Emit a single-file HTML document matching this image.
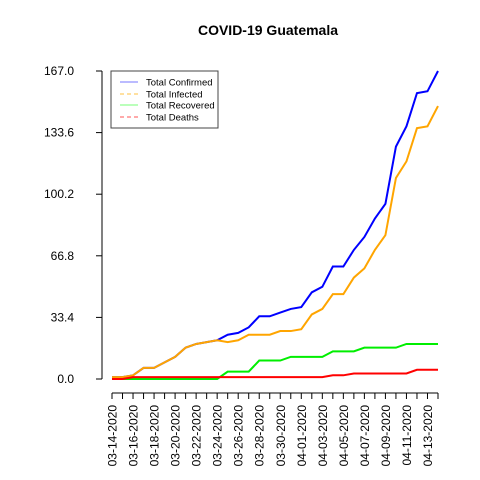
<!DOCTYPE html>
<html><head><meta charset="utf-8"><style>body{margin:0;background:#fff}svg{display:block;font-family:"Liberation Sans",sans-serif}</style></head>
<body>
<svg id="c" width="480" height="480" xmlns="http://www.w3.org/2000/svg">
<text x="268" y="35" text-anchor="middle" font-weight="bold" font-size="14">COVID-19 Guatemala</text>
<g id="plot"></g>
<g>
<rect x="111" y="71" width="107" height="57" fill="#fff" stroke="#444" stroke-width="1"/>
<line x1="120" y1="82" x2="138" y2="82" stroke="#7777ff" stroke-width="1"/>
<line x1="120" y1="94" x2="138" y2="94" stroke="#ffc040" stroke-dasharray="4,3"/>
<line x1="120" y1="105" x2="138" y2="105" stroke="#77ff77"/>
<line x1="120" y1="117" x2="138" y2="117" stroke="#ff5555" stroke-dasharray="4,3"/>
<text x="146" y="85.5" font-size="9.5">Total Confirmed</text>
<text x="146" y="97.5" font-size="9.5">Total Infected</text>
<text x="146" y="108.5" font-size="9.5">Total Recovered</text>
<text x="146" y="120.5" font-size="9.5">Total Deaths</text>
</g>
</svg>
<script>
const dates=["03-14-2020","03-15-2020","03-16-2020","03-17-2020","03-18-2020","03-19-2020","03-20-2020","03-21-2020","03-22-2020","03-23-2020","03-24-2020","03-25-2020","03-26-2020","03-27-2020","03-28-2020","03-29-2020","03-30-2020","03-31-2020","04-01-2020","04-02-2020","04-03-2020","04-04-2020","04-05-2020","04-06-2020","04-07-2020","04-08-2020","04-09-2020","04-10-2020","04-11-2020","04-12-2020","04-13-2020","04-14-2020"];
const confirmed=[1,1,2,6,6,9,12,17,19,20,21,24,25,28,34,34,36,38,39,47,50,61,61,70,77,87,95,126,137,155,156,167];
const infected=[1,1,2,6,6,9,12,17,19,20,21,20,21,24,24,24,26,26,27,35,38,46,46,55,60,70,78,109,118,136,137,148];
const recovered=[0,0,0,0,0,0,0,0,0,0,0,4,4,4,10,10,10,12,12,12,12,15,15,15,17,17,17,17,19,19,19,19];
const deaths=[0,0,1,1,1,1,1,1,1,1,1,1,1,1,1,1,1,1,1,1,1,2,2,3,3,3,3,3,3,5,5,5];
const yTicks=[0,33.4,66.8,100.2,133.6,167.0];
const NS="http://www.w3.org/2000/svg";
const x=i=>112+i*(326/(dates.length-1));
const y=v=>379-v*(308/167);
const g=document.getElementById('plot');
function mk(t,a){const e=document.createElementNS(NS,t);for(const k in a)e.setAttribute(k,a[k]);g.appendChild(e);return e;}
let ya=mk('line',{x1:102,y1:y(0),x2:102,y2:y(167),stroke:'#000'});


yTicks.forEach(v=>{mk('line',{x1:96,y1:y(v),x2:102,y2:y(v),stroke:'#000'});
const t=mk('text',{x:74,y:y(v)+4,'text-anchor':'end','font-size':12});t.textContent=v.toFixed(1);

});
let xa=mk('line',{x1:x(0),y1:393,x2:x(dates.length-1),y2:393,stroke:'#000'});


dates.forEach((d,i)=>{mk('line',{x1:x(i),y1:393,x2:x(i),y2:399,stroke:'#000'});
if(i%2==0){const t=mk('text',{x:0,y:0,'text-anchor':'end','font-size':12,transform:`translate(${x(i)+4.5},405) rotate(-90)`});t.textContent=d;

}});
function line(arr,col,name){const p=mk('polyline',{points:arr.map((v,i)=>x(i)+','+y(v)).join(' '),fill:'none',stroke:col,'stroke-width':2});

}
line(confirmed,'#0000ff','confirmed-line');
line(infected,'#ffa500','infected-line');
line(recovered,'#00ee00','recovered-line');
line(deaths,'#ff0000','deaths-line');
</script>
</body></html>
